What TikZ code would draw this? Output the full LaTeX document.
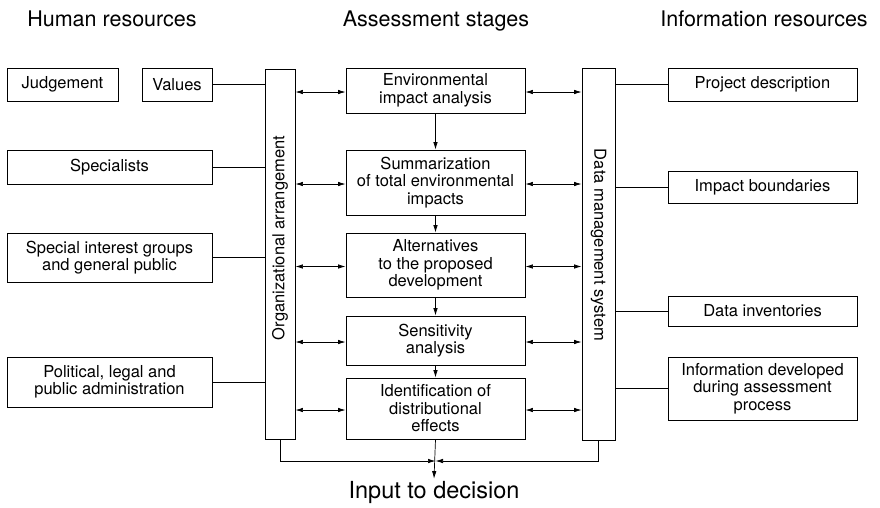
\documentclass[tikz,border=0pt]{standalone}
\usepackage{fontspec}
\setmainfont{TeX Gyre Heros}
\usetikzlibrary{arrows.meta,shadows}

\begin{document}
\begin{tikzpicture}[x=1pt,y=-1pt,
  box/.style={draw, fill=white, line width=0.9pt, align=center, inner sep=0pt,
    font=\fontsize{16.5}{17.5}\selectfont,
    drop shadow={shadow xshift=1.3pt, shadow yshift=-1.3pt, fill=black, opacity=1}},
  bar/.style={box},
  head/.style={anchor=base, inner sep=0pt, font=\fontsize{21.5}{26}\selectfont},
  vlabel/.style={inner sep=0pt, font=\fontsize{16.5}{17.5}\selectfont},
  link/.style={line width=0.7pt},
  tip/.tip={Latex[length=7.5pt,width=4.5pt]},
  arr/.style={link, -tip},
  darr/.style={link, tip-tip}
]
\useasboundingbox (0,0) rectangle (880,507);

% column headings
\node[head] (hhum) at (112,26) {Human resources};
\node[head] (hass) at (436,26) {Assessment stages};
\node[head] (hinf) at (764,26) {Information resources};

% human resources
\node[box, minimum width=111pt, minimum height=33pt] (judg) at (62.5,84.5) {Judgement};
\node[box, minimum width=70pt, minimum height=33pt] (vals) at (177,84.5) {Values};
\node[box, minimum width=205pt, minimum height=34pt] (spec) at (109.5,167) {Specialists};
\node[box, minimum width=205pt, minimum height=49pt] (sig) at (109.5,257.5) {Special interest groups\\and general public};
\node[box, minimum width=205pt, minimum height=50pt] (pol) at (109.5,382) {Political, legal and\\public administration};

% organizational bar
\node[bar, minimum width=30pt, minimum height=370pt] (org) at (280,254) {};
\node[vlabel, rotate=90] (orgl) at (280,238) {Organizational arrangement};

% assessment stages
\node[box, minimum width=179pt, minimum height=45pt] (eia) at (435.5,90.5) {Environmental\\impact analysis};
\node[box, minimum width=179pt, minimum height=65pt] (summ) at (435.5,182.5) {Summarization\\of total environmental\\impacts};
\node[box, minimum width=179pt, minimum height=64pt] (alt) at (435.5,265) {Alternatives\\to the proposed\\development};
\node[box, minimum width=179pt, minimum height=49pt] (sens) at (435.5,340.5) {Sensitivity\\analysis};
\node[box, minimum width=179pt, minimum height=61pt] (ident) at (435.5,408.5) {Identification of\\distributional\\effects};

% data management bar
\node[bar, minimum width=33pt, minimum height=372pt] (data) at (598.5,254) {};
\node[vlabel, rotate=-90] (datal) at (598.5,245) {Data management system};

% information resources
\node[box, minimum width=189pt, minimum height=33pt] (proj) at (762.5,84.5) {Project description};
\node[box, minimum width=189pt, minimum height=32pt] (impb) at (762.5,187) {Impact boundaries};
\node[box, minimum width=189pt, minimum height=30pt] (inv) at (762.5,311) {Data inventories};
\node[box, minimum width=189pt, minimum height=63pt] (info) at (762.5,388.5) {Information developed\\during assessment\\process};

% output
\node[head, font=\fontsize{23.5}{28}\selectfont] (out) at (434,498) {Input to decision};

% human resources to the organizational bar
\draw[link] (vals.east) -- (vals.east -| org.west);
\draw[link] (spec.east) -- (spec.east -| org.west);
\draw[link] (sig.east) -- (sig.east -| org.west);
\draw[link] (pol.east) -- (pol.east -| org.west);

% information resources to the data bar
\draw[link] (proj.west) -- (proj.west -| data.east);
\draw[link] (impb.west) -- (impb.west -| data.east);
\draw[link] (inv.west) -- (inv.west -| data.east);
\draw[link] (info.west) -- (info.west -| data.east);

% two-way exchanges with each stage
\foreach \s in {eia,summ,alt,sens,ident}{
  \draw[darr] ([yshift=-1.5pt]\s.west -| org.east) -- ([yshift=-1.5pt]\s.west);
  \draw[darr] ([yshift=-1.5pt]\s.east) -- ([yshift=-1.5pt]\s.east -| data.west);
}

% sequence of stages
\draw[arr] (eia) -- (summ);
\draw[arr] (summ) -- (alt);
\draw[arr] (alt) -- (sens);
\draw[arr] (sens) -- (ident);

% merge into the decision
\coordinate (merge) at (ident.south |- 0,461);
\draw[arr] (org.south) |- (merge);
\draw[arr] (data.south) |- (merge);
\draw[arr] (ident.south) -- ([yshift=2pt]out.north);
\end{tikzpicture}
\end{document}
